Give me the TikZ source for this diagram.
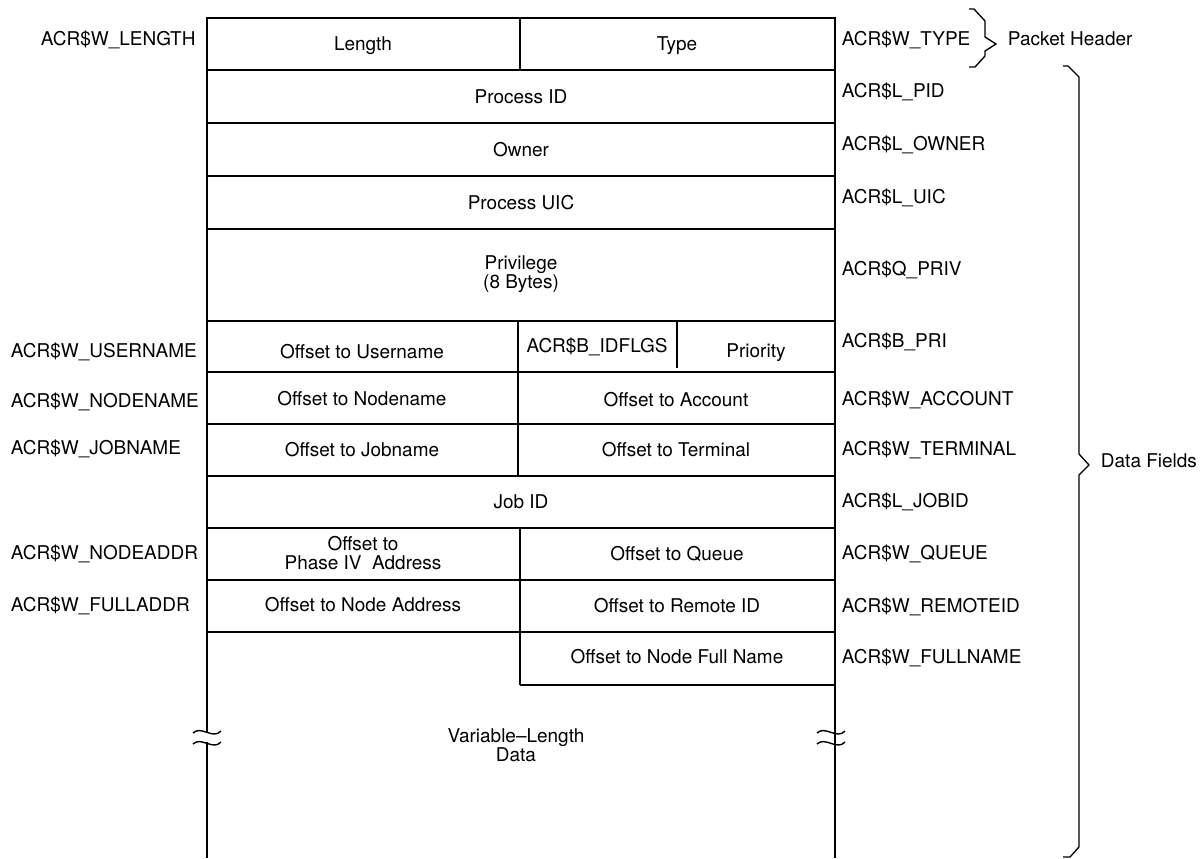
\documentclass[tikz,border=0pt]{standalone}
\usepackage{fontspec}
\setmainfont{TeX Gyre Heros}
\begin{document}
\begin{tikzpicture}[x=0.2mm,y=-0.2mm,line width=1.1pt,
  every node/.style={font=\fontsize{10.8}{10.6}\selectfont,inner sep=0pt},
  field/.style={anchor=base,align=center},
  block/.style={anchor=center,align=center},
  tag/.style={anchor=base west},
  brace/.style={line width=0.75pt,line join=miter},
  breakmark/.style={line width=0.8pt}]
\useasboundingbox (0,0) rectangle (1201,858);
\draw (207,733)--(207,18)--(835,18)--(835,858);
\draw (207,742)--(207,858);
\draw (207,70)--(835,70) (207,123)--(835,123) (207,176)--(835,176) (207,229)--(835,229)
  (207,321)--(835,321) (207,372)--(835,372) (207,424)--(835,424) (207,476)--(835,476)
  (207,528)--(835,528) (207,580)--(835,580) (207,632)--(835,632) (520,685)--(835,685);
\draw (520,18)--(520,70) (518,321)--(518,476) (520,528)--(520,685) (677,321)--(677,368);
\draw[breakmark] (193,733) .. controls (201,725) and (213,740) .. (221,731);
\draw[breakmark] (193,744) .. controls (201,736) and (213,751) .. (221,742);
\draw[breakmark] (817,733) .. controls (825,725) and (837,740) .. (845,731);
\draw[breakmark] (817,744) .. controls (825,736) and (837,751) .. (845,742);
\node[field] (length) at (363,50) {Length};
\node[field] (type) at (677,50) {Type};
\node[field] (pid) at (521,103) {Process ID};
\node[field] (owner) at (521,156) {Owner};
\node[field] (uic) at (521,209) {Process UIC};
\node[block] (priv) at (521,274) {Privilege\\(8 Bytes)};
\node[field] (uname) at (362,358) {Offset to Username};
\node[field] (idflgs) at (597,352) {ACR\$B\_IDFLGS};
\node[field] (pri) at (756,357) {Priority};
\node[field] (nname) at (362,405) {Offset to Nodename};
\node[field] (acct) at (676,406) {Offset to Account};
\node[field] (jname) at (362,456) {Offset to Jobname};
\node[field] (term) at (676,456) {Offset to Terminal};
\node[field] (jobid) at (521,508) {Job ID};
\node[block] (naddr) at (363,553) {Offset to\\Phase IV\ \ Address};
\node[field] (queue) at (677,560) {Offset to Queue};
\node[field] (faddr) at (363,611) {Offset to Node Address};
\node[field] (remid) at (677,612) {Offset to Remote ID};
\node[field] (fname) at (677,663) {Offset to Node Full Name};
\node[block] (vdata) at (516,745) {Variable--Length\\Data};
\node[tag] (lLength) at (40,45) {ACR\$W\_LENGTH};
\node[tag] (lUser) at (10,357) {ACR\$W\_USERNAME};
\node[tag] (lNode) at (10,407) {ACR\$W\_NODENAME};
\node[tag] (lJob) at (10,454) {ACR\$W\_JOBNAME};
\node[tag] (lAddr) at (10,559) {ACR\$W\_NODEADDR};
\node[tag] (lFull) at (10,611) {ACR\$W\_FULLADDR};
\node[tag] (rType) at (841,45) {ACR\$W\_TYPE};
\node[tag] (rPid) at (841,97) {ACR\$L\_PID};
\node[tag] (rOwner) at (841,150) {ACR\$L\_OWNER};
\node[tag] (rUic) at (841,203) {ACR\$L\_UIC};
\node[tag] (rPriv) at (841,275) {ACR\$Q\_PRIV};
\node[tag] (rPri) at (841,347) {ACR\$B\_PRI};
\node[tag] (rAcct) at (841,405) {ACR\$W\_ACCOUNT};
\node[tag] (rTerm) at (841,455) {ACR\$W\_TERMINAL};
\node[tag] (rJobid) at (841,507) {ACR\$L\_JOBID};
\node[tag] (rQueue) at (841,559) {ACR\$W\_QUEUE};
\node[tag] (rRemid) at (841,612) {ACR\$W\_REMOTEID};
\node[tag] (rFull) at (841,663) {ACR\$W\_FULLNAME};
\draw[brace] (969,9)--(974,9)--(985,21)--(985,37)--(996,44)--(985,51)--(985,56)--(975,67)--(969,67);
\node[tag] (header) at (1007,45) {Packet Header};
\draw[brace] (1063,66)--(1068,66)--(1079,77)--(1079,454)--(1089,465)--(1079,475)--(1079,847)--(1070,857)--(1063,857);
\node[tag] (fields) at (1100,467) {Data Fields};
\end{tikzpicture}
\end{document}
